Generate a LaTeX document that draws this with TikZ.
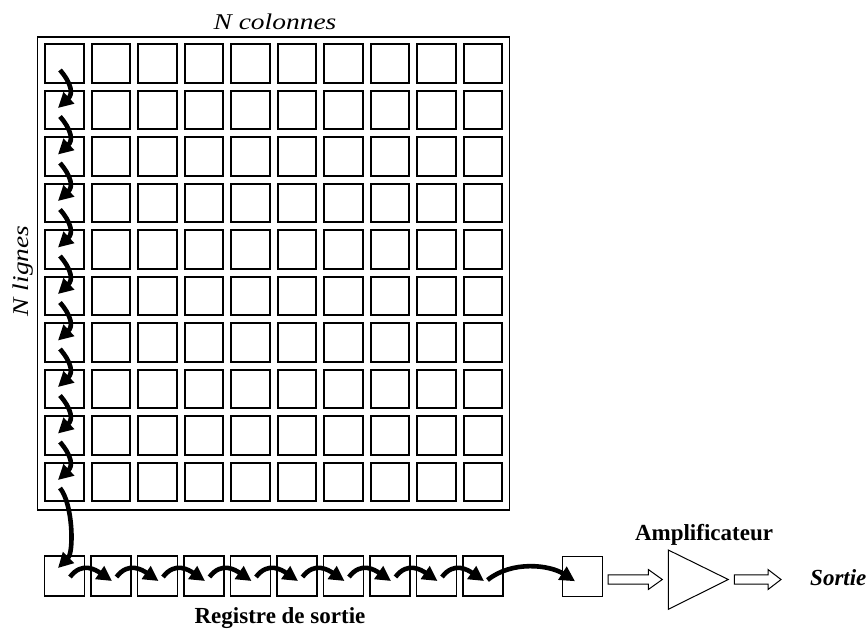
\documentclass[tikz,border=0pt]{standalone}
\usepackage{fontspec}
\usepackage{graphicx}
\setmainfont{Liberation Serif}
\usetikzlibrary{arrows.meta,calc}
\begin{document}
\begin{tikzpicture}[x=1pt,y=-1pt,
  cell/.style={draw, line width=1.9pt, minimum size=38.5pt, inner sep=0pt, outer sep=0pt},
  regcell/.style={draw, line width=1.3pt, minimum size=40pt, inner sep=0pt, outer sep=0pt},
  frame/.style={draw, line width=1.5pt, inner sep=0pt, outer sep=0pt},
  shiftarrow/.style={line width=4.6pt, -{Triangle[length=15pt,width=15pt]}},
  hollow/.style={draw, line width=1pt, line join=miter},
  lbl/.style={font=\fontsize{23}{27}\selectfont\bfseries, inner sep=0pt},
  ilbl/.style={font=\fontsize{22.5}{26}\selectfont\itshape, inner sep=0pt}]
\useasboundingbox (0,0) rectangle (866,633);
\node[frame, minimum width=472pt, minimum height=473pt] (frame) at (273.5,273.5) {};
\foreach \i in {0,...,9}{
  \foreach \j in {0,...,9}{
    \node[cell] (c-\i-\j) at ({64.5+46.5*\i},{63.5+46.5*\j}) {};
  }
  \node[regcell] (r-\i) at ({64.5+46.5*\i},576) {};
}
\node[regcell] (s) at (582.5,576.2) {};
% amplifier
\coordinate (amp-in) at (668.3,579.5);
\coordinate (amp-out) at (728.3,579.5);
\coordinate (amp-top) at (668.3,550);
\coordinate (amp-bot) at (668.3,609.3);
\draw[line width=1pt, line join=miter] (amp-top) -- (amp-out) -- (amp-bot) -- cycle;
\coordinate (sortie) at (781,579.5);
% vertical shifts
\foreach \j [evaluate=\j as \k using int(\j+1)] in {0,...,8}{
  \draw[shiftarrow] ([shift={(-4.5,6.5)}]c-0-\j.center) .. controls +(12,14) and +(15,-14) .. ([shift={(-6.5,-2)}]c-0-\k.center);
}
\draw[shiftarrow] ([shift={(-4.5,6)}]c-0-9.center) .. controls +(13,16) and +(16,-16) .. ([shift={(-6.5,-8)}]r-0.center);
% horizontal shifts
\foreach \i [evaluate=\i as \k using int(\i+1)] in {0,...,8}{
  \draw[shiftarrow] ([shift={(5.5,1)}]r-\i.center) .. controls +(12,-16) and +(-16,-11) .. ([shift={(1,5)}]r-\k.center);
}
\draw[shiftarrow] ([shift={(4.5,4)}]r-9.center) .. controls +(25,-20) and +(-25,-16) .. ([shift={(-7.5,5)}]s.center);
% hollow arrows
\draw[hollow] let \p1=([xshift=5.5pt]s.east), \p2=([xshift=-6pt]amp-in) in
  (\x1,\y2+4.6pt) -- (\x2-14pt,\y2+4.6pt) -- (\x2-14pt,\y2+10pt) -- (\x2,\y2)
  -- (\x2-14pt,\y2-10pt) -- (\x2-14pt,\y2-4.6pt) -- (\x1,\y2-4.6pt) -- cycle;
\draw[hollow] let \p1=([xshift=6pt]amp-out), \p2=(sortie) in
  (\x1,\y1+4.6pt) -- (\x2-13pt,\y1+4.6pt) -- (\x2-13pt,\y1+10pt) -- (\x2,\y1)
  -- (\x2-13pt,\y1-10pt) -- (\x2-13pt,\y1-4.6pt) -- (\x1,\y1-4.6pt) -- cycle;
% labels
\node[ilbl, anchor=base] (ncol) at (275,29.3) {\scalebox{1.22}[1]{N colonnes}};
\node[ilbl, anchor=base, rotate=90] (nlig) at (28.3,271) {\scalebox{1.22}[1]{N lignes}};
\node[lbl, anchor=base] (amplbl) at (704,540) {Amplificateur};
\node[lbl, anchor=base west] (sortlbl) at (810,585) {\itshape Sortie};
\node[lbl, anchor=base] (reglbl) at (280,623) {Registre de sortie};
\end{tikzpicture}
\end{document}
